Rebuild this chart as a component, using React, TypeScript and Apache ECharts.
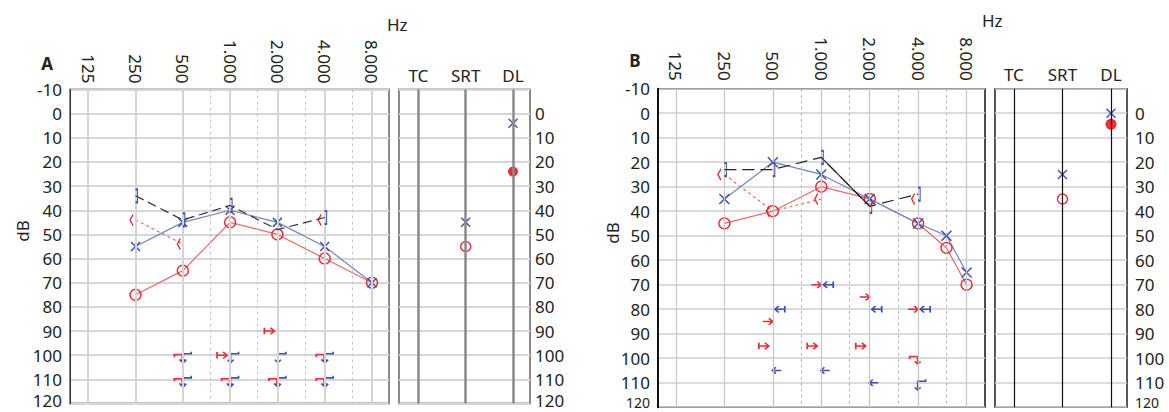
import React, { useEffect, useRef } from 'react';
import * as echarts from 'echarts';

// ---------- axes ----------
const FREQ_TICKS = [125, 250, 500, 1000, 2000, 4000, 8000];
const FREQ_MID = [750, 1500, 3000, 6000];
const SIDE_LABELS = ['TC', 'SRT', 'DL'];
const DB_MAX = 120;

// ---------- panel A ----------
const A_FREQ = [250, 500, 1000, 2000, 4000, 8000];
const A_RIGHT_AC = [75, 65, 45, 50, 60, 70];
const A_LEFT_AC = [55, 45, 40, 45, 55, 70];
const A_LEFT_BCM_FREQ = [250, 500, 1000, 2000, 4000];
const A_LEFT_BCM = [34, 44, 38, 48, 43];
const A_LEFT_BCM_NOSYM = [2000];
const A_RIGHT_BC_FREQ = [250, 500];
const A_RIGHT_BC = [44, 54];
const A_RIGHT_BC2_FREQ = [4000];
const A_RIGHT_BC2 = [44];
const A_RIGHT_NRHOOK_FREQ = [500, 4000, 500, 1000, 2000, 4000];
const A_RIGHT_NRHOOK = [100, 100, 110, 110, 110, 110];
const A_RIGHT_NRBAR_FREQ = [2000, 1000];
const A_RIGHT_NRBAR = [90, 100];
const A_LEFT_NRHOOK_FREQ = [500, 1000, 2000, 4000, 500, 1000, 2000, 4000];
const A_LEFT_NRHOOK = [100, 100, 100, 100, 110, 110, 110, 110];
const A_SRT_LEFT = [45];
const A_SRT_RIGHT = [55];
const A_DL_LEFT = [4];
const A_DL_RIGHT = [24];

// ---------- panel B ----------
const B_FREQ = [250, 500, 1000, 2000, 4000, 6000, 8000];
const B_RIGHT_AC = [45, 40, 30, 35, 45, 55, 70];
const B_LEFT_AC = [35, 20, 25, 35, 45, 50, 65];
const B_LEFT_BCM_FREQ = [250, 500, 1000, 2000, 4000];
const B_LEFT_BCM = [23, 23, 18, 38, 33];
const B_LEFT_BCM_SOLID_FREQ = [1000, 2000];
const B_RIGHT_BC_FREQ = [250, 500, 1000];
const B_RIGHT_BC = [25, 40, 35];
const B_RIGHT_BC2_FREQ = [4000];
const B_RIGHT_BC2 = [35];
const B_RIGHT_ARROW_FREQ = [1000, 2000, 4000, 500];
const B_RIGHT_ARROW = [70, 75, 80, 85];
const B_RIGHT_BARARROW_FREQ = [500, 1000, 2000];
const B_RIGHT_BARARROW = [95, 95, 95];
const B_RIGHT_HOOK_FREQ = [4000];
const B_RIGHT_HOOK = [100];
const B_LEFT_BARARROW_FREQ = [1000, 500, 2000, 4000];
const B_LEFT_BARARROW = [70, 80, 80, 80];
const B_LEFT_ARROW_FREQ = [500, 1000, 2000];
const B_LEFT_ARROW = [105, 105, 110];
const B_LEFT_HOOK_FREQ = [4000];
const B_LEFT_HOOK = [110];
const B_SRT_LEFT = [25];
const B_SRT_RIGHT = [35];
const B_DL_LEFT = [0];
const B_DL_RIGHT = [4.5];

const RED = '#ee2d34';
const RED_LINE = '#f06868';
const BLUE = '#3e54a8';
const BLUE_LINE = '#6f82cc';
const FONT = '"Noto Sans", "Open Sans", sans-serif';

const oct = (f: number) => Math.log2(f / 125);
const pts = (fr: number[], v: number[]) => fr.map((f, i) => [oct(f), v[i]]);
const fmtFreq = (v: number) => {
  const f = Math.round(125 * Math.pow(2, v));
  return f >= 1000 ? `${Math.floor(f / 1000)}.${String(f % 1000).padStart(3, '0')}` : String(f);
};

const SYM_X = 'path://M0,0L10,10M10,0L0,10';
const SYM_O = 'path://M0,5A5,5,0,1,1,10,5A5,5,0,1,1,0,5Z';
const SYM_BR = 'path://M0,0H4V12H0';
const SYM_LT = 'path://M5,0L0,5L5,10';
const SYM_RARROW = 'path://M0,4H10M6,0L10,4L6,8';
const SYM_RBARARROW = 'path://M0,0V8M0,4H10M6,0L10,4L6,8';
const SYM_LBARARROW = 'path://M10,0V8M10,4H0M4,0L0,4L4,8';
const SYM_LARROW = 'path://M10,4H0M4,0L0,4L4,8';
const SYM_RHOOK = 'path://M0,3V0H8V9M5,6L8,9L11,6';
const SYM_LHOOK = 'path://M11,-2V0H3V9M0,6L3,9L6,6';

const strokeSym = (color: string, w = 1.4) => ({ color: 'rgba(0,0,0,0)', borderColor: color, borderWidth: w });

function marks(
  name: string, xi: number, data: any[], symbol: string, size: any, color: string,
  offset: number[] = [0, 0], w = 1.4
) {
  return {
    name, type: 'line', xAxisIndex: xi, yAxisIndex: xi, data,
    symbol, symbolSize: size, symbolKeepAspect: true, symbolOffset: offset,
    lineStyle: { opacity: 0 }, itemStyle: strokeSym(color, w), z: 4, silent: true,
  };
}
function curve(
  name: string, xi: number, data: any[], symbol: string, size: any, color: string,
  lineColor: string, lineType: any, offset: number[] = [0, 0], z = 3
) {
  return {
    name, type: 'line', xAxisIndex: xi, yAxisIndex: xi, data,
    symbol, symbolSize: size, symbolKeepAspect: true, symbolOffset: offset,
    lineStyle: { color: lineColor, width: 1.2, type: lineType },
    itemStyle: strokeSym(color, 1.5), z, silent: true,
  };
}

function gridLines(xi: number, solid: string, dash: string, w: number) {
  return {
    type: 'line', xAxisIndex: xi, yAxisIndex: xi, data: [], z: 1, silent: true,
    markLine: {
      silent: true, symbol: 'none', label: { show: false }, animation: false,
      lineStyle: { color: solid, width: w, type: 'solid' },
      data: [
        ...FREQ_TICKS.map((f) => ({ xAxis: oct(f) })),
        ...FREQ_MID.map((f) => ({ xAxis: oct(f), lineStyle: { color: dash, width: 1, type: [3, 3] } })),
      ],
    },
  };
}
function sideLines(xi: number, color: string, w: number) {
  return {
    type: 'line', xAxisIndex: xi, yAxisIndex: xi, data: [], z: 1, silent: true,
    markLine: {
      silent: true, symbol: 'none', label: { show: false }, animation: false,
      lineStyle: { color, width: w, type: 'solid' },
      data: SIDE_LABELS.map((_, i) => ({ xAxis: i })),
    },
  };
}

export default function App() {
  const ref = useRef<HTMLDivElement>(null);
  useEffect(() => {
    if (!ref.current) return;
    const chart = echarts.init(ref.current, undefined, { renderer: 'svg' });
    const labelStyle = { fontSize: 17, color: '#222', fontFamily: FONT };
    const mainX = (gi: number, min: number, max: number, margin: number) => ({
      type: 'value', gridIndex: gi, position: 'top', min, max,
      axisLine: { show: false, onZero: false }, axisTick: { show: false }, splitLine: { show: false },
      axisLabel: { ...labelStyle, customValues: FREQ_TICKS.map(oct), rotate: 90, margin, formatter: fmtFreq },
    });
    const sideX = (gi: number, min: number, max: number) => ({
      type: 'value', gridIndex: gi, position: 'top', min, max,
      axisLine: { show: false, onZero: false }, axisTick: { show: false }, splitLine: { show: false },
      axisLabel: { ...labelStyle, customValues: [0, 1, 2], margin: 6, formatter: (v: number) => SIDE_LABELS[Math.round(v)] },
    });
    // mode for the 120 label: 'lift' = raised by padding, 'hide' = drawn separately as a graphic text
    const yAx = (gi: number, pos: string, margin: number, lineColor: string, lineW: number, split: string, splitW: number, hideTop: boolean, showLine: boolean, mode: string) => ({
      type: 'value', gridIndex: gi, inverse: true, min: -10, max: DB_MAX, interval: 10, position: pos,
      axisLine: { show: showLine, onZero: false, lineStyle: { color: lineColor, width: lineW } },
      axisTick: { show: false },
      splitLine: { show: true, lineStyle: { color: split, width: splitW } },
      axisLabel: {
        ...labelStyle, margin,
        rich: { last: { ...labelStyle, padding: [0, 0, 6, 0] } },
        formatter: (v: number) =>
          hideTop && v === -10 ? '' : v === DB_MAX ? (mode === 'hide' ? '' : `{last|${v}}`) : String(v),
      },
    });

    const option: any = {
      animation: false,
      grid: [
        { left: 70, top: 89.5, width: 319, height: 314, show: true, borderColor: '#8a8a8a', borderWidth: 2, backgroundColor: 'transparent' },
        { left: 399, top: 89.5, width: 131, height: 314, show: true, borderColor: '#8a8a8a', borderWidth: 2, backgroundColor: 'transparent' },
        { left: 658, top: 88.7, width: 327, height: 318.5, show: true, borderColor: '#111', borderWidth: 1.5, backgroundColor: 'transparent' },
        { left: 995, top: 88.7, width: 132, height: 318.5, show: true, borderColor: '#222', borderWidth: 1.5, backgroundColor: 'transparent' },
      ],
      xAxis: [
        mainX(0, -0.385, 6.36, 6),
        sideX(1, -0.41, 2.36),
        mainX(2, -0.37, 6.38, 8),
        sideX(3, -0.39, 2.33),
      ],
      yAxis: [
        yAx(0, 'left', 8, '#333', 1, '#d6d6d6', 2, false, true, 'lift'),
        yAx(1, 'right', 5, '#888', 2, '#d6d6d6', 2, true, false, 'lift'),
        yAx(2, 'left', 8, '#111', 2, '#cfcfcf', 1.5, false, true, 'hide'),
        yAx(3, 'right', 8, '#222', 1.5, '#cfcfcf', 1.5, true, false, 'hide'),
      ],
      graphic: [
        { type: 'text', x: 47, y: 63, style: { text: 'A', font: `bold 17px ${FONT}`, fill: '#222', align: 'center', verticalAlign: 'middle' } },
        { type: 'text', x: 635, y: 60, style: { text: 'B', font: `bold 17px ${FONT}`, fill: '#222', align: 'center', verticalAlign: 'middle' } },
        { type: 'text', x: 387, y: 24, style: { text: 'Hz', font: `17px ${FONT}`, fill: '#222', align: 'left', verticalAlign: 'middle' } },
        { type: 'text', x: 982, y: 20, style: { text: 'Hz', font: `17px ${FONT}`, fill: '#222', align: 'left', verticalAlign: 'middle' } },
        { type: 'text', x: 22, y: 231, rotation: Math.PI / 2, style: { text: 'dB', font: `17px ${FONT}`, fill: '#222', align: 'center', verticalAlign: 'middle' } },
        { type: 'text', x: 612, y: 233, rotation: Math.PI / 2, style: { text: 'dB', font: `17px ${FONT}`, fill: '#222', align: 'center', verticalAlign: 'middle' } },
        { type: 'text', x: 650, y: 402.5, style: { text: String(DB_MAX), font: `14px ${FONT}`, fill: '#222', align: 'right', verticalAlign: 'middle' } },
        { type: 'text', x: 1135, y: 402.5, style: { text: String(DB_MAX), font: `14px ${FONT}`, fill: '#222', align: 'left', verticalAlign: 'middle' } },
      ],
      series: [
        gridLines(0, '#d4d4d4', '#c4c4c4', 2),
        sideLines(1, '#8a8a8a', 2.5),
        gridLines(2, '#c6c6c6', '#b8b8b8', 1.2),
        sideLines(3, '#111', 1.2),

        // ---- A ----
        curve('A right BC', 0, pts(A_RIGHT_BC_FREQ, A_RIGHT_BC), SYM_LT, [6, 11], RED, RED_LINE, [3, 3], [-4, 0]),
        marks('A right BC 4k', 0, pts(A_RIGHT_BC2_FREQ, A_RIGHT_BC2), SYM_LT, [6, 11], RED, [-5, 0], 1.5),
        curve('A right AC', 0, pts(A_FREQ, A_RIGHT_AC), SYM_O, 11, RED, RED_LINE, 'solid'),
        curve('A left AC', 0, pts(A_FREQ, A_LEFT_AC), SYM_X, 9, BLUE, BLUE_LINE, 'solid'),
        curve('A left BC masked', 0,
          pts(A_LEFT_BCM_FREQ, A_LEFT_BCM).map((p, i) => (A_LEFT_BCM_NOSYM.includes(A_LEFT_BCM_FREQ[i]) ? { value: p, symbol: 'none' } : p)),
          SYM_BR, [6, 13], BLUE, '#333', [9, 5], [1, 0], 5),
        marks('A right NR hook', 0, pts(A_RIGHT_NRHOOK_FREQ, A_RIGHT_NRHOOK), SYM_RHOOK, [11, 9], RED, [-3, 3], 1.6),
        marks('A left NR hook', 0, pts(A_LEFT_NRHOOK_FREQ, A_LEFT_NRHOOK), SYM_LHOOK, [11, 11], BLUE, [3, 2], 1.6),
        marks('A right NR bar', 0, pts(A_RIGHT_NRBAR_FREQ, A_RIGHT_NRBAR), SYM_RBARARROW, [10, 8], RED, [-8, 0], 1.6),
        marks('A SRT left', 1, A_SRT_LEFT.map((v) => [1, v]), SYM_X, 9, BLUE),
        marks('A SRT right', 1, A_SRT_RIGHT.map((v) => [1, v]), SYM_O, 10, RED),
        marks('A DL left', 1, A_DL_LEFT.map((v) => [2, v]), SYM_X, 9, BLUE),
        { type: 'line', xAxisIndex: 1, yAxisIndex: 1, data: A_DL_RIGHT.map((v) => [2, v]), symbol: 'circle', symbolSize: 10, lineStyle: { opacity: 0 }, itemStyle: { color: RED }, z: 4, silent: true },

        // ---- B ----
        curve('B right BC', 2, pts(B_RIGHT_BC_FREQ, B_RIGHT_BC), SYM_LT, [6, 11], RED, RED_LINE, [3, 3], [-5, 0]),
        marks('B right BC 4k', 2, pts(B_RIGHT_BC2_FREQ, B_RIGHT_BC2), SYM_LT, [6, 11], RED, [-5, 0], 1.5),
        curve('B right AC', 2, pts(B_FREQ, B_RIGHT_AC), SYM_O, 11, RED, RED_LINE, 'solid'),
        curve('B left AC', 2, pts(B_FREQ, B_LEFT_AC), SYM_X, 10, BLUE, BLUE_LINE, 'solid'),
        curve('B left BC masked', 2, pts(B_LEFT_BCM_FREQ, B_LEFT_BCM), SYM_BR, [6, 13], BLUE, '#222', [12, 6], [1, 0], 5),
        {
          type: 'line', xAxisIndex: 2, yAxisIndex: 2, z: 5, silent: true, symbol: 'none',
          data: B_LEFT_BCM_FREQ.map((f, i) => (B_LEFT_BCM_SOLID_FREQ.includes(f) ? [oct(f), B_LEFT_BCM[i]] : null)).filter((d) => d),
          lineStyle: { color: '#222', width: 1.1, type: 'solid' },
        },
        marks('B right arrow', 2, pts(B_RIGHT_ARROW_FREQ, B_RIGHT_ARROW), SYM_RARROW, [10, 8], RED, [-5, 0], 1.6),
        marks('B right bar arrow', 2, pts(B_RIGHT_BARARROW_FREQ, B_RIGHT_BARARROW), SYM_RBARARROW, [10, 8], RED, [-9, 0], 1.6),
        marks('B right hook', 2, pts(B_RIGHT_HOOK_FREQ, B_RIGHT_HOOK), SYM_RHOOK, [11, 9], RED, [-3, 2], 1.6),
        marks('B left bar arrow', 2, pts(B_LEFT_BARARROW_FREQ, B_LEFT_BARARROW), SYM_LBARARROW, [10, 8], BLUE, [7, 0], 1.6),
        marks('B left arrow', 2, pts(B_LEFT_ARROW_FREQ, B_LEFT_ARROW), SYM_LARROW, [9, 8], BLUE, [4, 0], 1.6),
        marks('B left hook', 2, pts(B_LEFT_HOOK_FREQ, B_LEFT_HOOK), SYM_LHOOK, [11, 11], BLUE, [2, 2], 1.6),
        marks('B SRT left', 3, B_SRT_LEFT.map((v) => [1, v]), SYM_X, 9, BLUE),
        marks('B SRT right', 3, B_SRT_RIGHT.map((v) => [1, v]), SYM_O, 10, RED),
        marks('B DL left', 3, B_DL_LEFT.map((v) => [2, v]), SYM_X, 9, BLUE),
        { type: 'line', xAxisIndex: 3, yAxisIndex: 3, data: B_DL_RIGHT.map((v) => [2, v]), symbol: 'circle', symbolSize: 11, lineStyle: { opacity: 0 }, itemStyle: { color: RED }, z: 4, silent: true },
      ],
    };
    chart.setOption(option);
    return () => chart.dispose();
  }, []);
  return <div ref={ref} style={{ position: 'absolute', left: 0, top: 0, width: 1169, height: 412, background: '#fff' }} />;
}
